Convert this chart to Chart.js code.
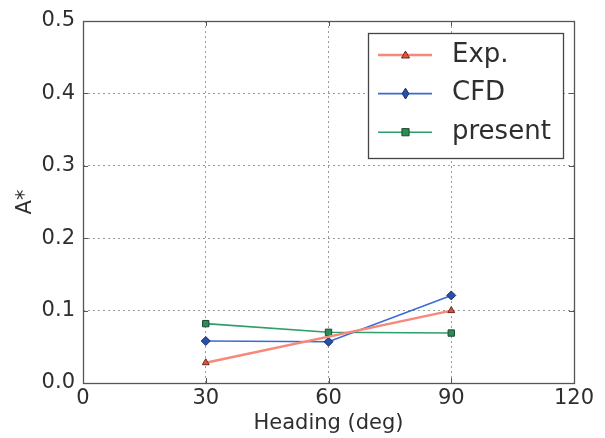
<!DOCTYPE html>
<html><head><meta charset="utf-8">
<script src="https://cdn.jsdelivr.net/npm/chart.js@4"></script>
<style>html,body{margin:0;padding:0;background:#fff}#wrap{width:605px;height:438px}</style>
</head><body><div id="wrap"><canvas id="c" width="605" height="438"></canvas></div>
<script>
const headings = [30, 60, 90];
const expValues = [0.028, null, 0.100];
const cfdValues = [0.058, 0.057, 0.121];
const presentValues = [0.082, 0.070, 0.069];
const xTicks = [0, 30, 60, 90, 120];
const yTicks = [0.0, 0.1, 0.2, 0.3, 0.4, 0.5];
const seriesNames = ['Exp.', 'CFD', 'present'];

const toPts = v => headings.map((h, i) => ({x: h, y: v[i]}));
const FONT = "'DejaVu Sans', sans-serif";
const TXT = '#2e2e2e';

function drawMarker(ctx, style, x, y, r) {
  if (style === 'triangle') {
    ctx.moveTo(x, y - r); ctx.lineTo(x + r, y + r * 0.75); ctx.lineTo(x - r, y + r * 0.75); ctx.closePath();
  } else if (style === 'rectRot') {
    ctx.moveTo(x, y - r * 1.2); ctx.lineTo(x + r * 0.75, y); ctx.lineTo(x, y + r * 1.2); ctx.lineTo(x - r * 0.75, y); ctx.closePath();
  } else {
    ctx.rect(x - r * 0.8, y - r * 0.8, r * 1.6, r * 1.6);
  }
}

const frame = {
  id: 'frame',
  afterDraw(chart) {
    const {ctx, chartArea: a, scales} = chart;
    ctx.save();
    ctx.strokeStyle = '#555';
    ctx.lineWidth = 1;
    ctx.beginPath();
    xTicks.forEach(t => {
      const x = Math.round(scales.x.getPixelForValue(t)) + 0.5;
      ctx.moveTo(x, a.bottom); ctx.lineTo(x, a.bottom - 5);
      ctx.moveTo(x, a.top); ctx.lineTo(x, a.top + 5);
    });
    yTicks.forEach(t => {
      const y = Math.round(scales.y.getPixelForValue(t)) + 0.5;
      ctx.moveTo(a.left, y); ctx.lineTo(a.left + 5, y);
      ctx.moveTo(a.right, y); ctx.lineTo(a.right - 5, y);
    });
    ctx.stroke();
    ctx.lineWidth = 1.3;
    ctx.strokeRect(Math.round(a.left)+0.5, Math.round(a.top)+0.5, Math.round(a.right-a.left), Math.round(a.bottom-a.top));
    // legend
    const bw = 195, bh = 125;
    const bx = Math.round(a.right) - 11 - bw, by = Math.round(a.top) + 12;
    ctx.fillStyle = '#fff';
    ctx.fillRect(bx, by, bw, bh);
    ctx.strokeStyle = '#444';
    ctx.lineWidth = 1.3;
    ctx.strokeRect(bx + 0.5, by + 0.5, bw, bh);
    chart.data.datasets.forEach((ds, i) => {
      const y = by + 22 + i * 38.6;
      ctx.strokeStyle = ds.borderColor;
      ctx.lineWidth = ds.borderWidth;
      ctx.beginPath(); ctx.moveTo(bx + 10, y); ctx.lineTo(bx + 64, y); ctx.stroke();
      ctx.fillStyle = ds.pointBackgroundColor;
      ctx.strokeStyle = ds.pointBorderColor;
      ctx.lineWidth = 1;
      ctx.beginPath();
      drawMarker(ctx, ds.pointStyle, bx + 37.5, y, ds.pointRadius);
      ctx.fill(); ctx.stroke();
      ctx.fillStyle = TXT;
      ctx.font = "26px " + FONT;
      ctx.textBaseline = 'middle';
      ctx.textAlign = 'left';
      ctx.fillText(ds.label, bx + 84, y);
    });
    ctx.restore();
  }
};

new Chart(document.getElementById('c'), {
  type: 'line',
  data: {
    datasets: [
      {label: seriesNames[0], data: toPts(expValues), borderColor: '#f7897a', borderWidth: 2.5,
       pointStyle: 'triangle', pointRadius: 4, pointBackgroundColor: '#d9553f', pointBorderColor: '#6b2a20', pointBorderWidth: 1, spanGaps: true},
      {label: seriesNames[1], data: toPts(cfdValues), borderColor: '#3a6cd0', borderWidth: 1.6,
       pointStyle: 'rectRot', pointRadius: 4.5, pointBackgroundColor: '#2a4fa8', pointBorderColor: '#1a2f66', pointBorderWidth: 1},
      {label: seriesNames[2], data: toPts(presentValues), borderColor: '#2e9e6a', borderWidth: 1.6,
       pointStyle: 'rect', pointRadius: 4.5, pointBackgroundColor: '#2e8b57', pointBorderColor: '#1b4a2e', pointBorderWidth: 1}
    ]
  },
  options: {
    responsive: false, animation: false,
    layout: {padding: {top: 21, right: 31, left: 0, bottom: 0}},
    plugins: {legend: {display: false}, tooltip: {enabled: false}},
    elements: {line: {tension: 0}},
    scales: {
      x: {
        type: 'linear', min: 0, max: 120,
        afterBuildTicks: s => { s.ticks = xTicks.map(v => ({value: v})); },
        afterFit: s => { s.height = 55; },
        grid: {color: '#9a9a9a', drawTicks: false, lineWidth: 1},
        border: {display: false, dash: [2, 3]},
        ticks: {color: TXT, font: {family: FONT, size: 21}, padding: 3, maxRotation: 0},
        title: {display: true, text: 'Heading (deg)', color: TXT, font: {family: FONT, size: 21}, padding: {top: 0, bottom: 2}}
      },
      y: {
        min: 0, max: 0.5,
        afterBuildTicks: s => { s.ticks = yTicks.map(v => ({value: v})); },
        afterFit: s => { s.width = 83; },
        grid: {color: '#9a9a9a', drawTicks: false, lineWidth: 1},
        border: {display: false, dash: [2, 3]},
        ticks: {color: TXT, font: {family: FONT, size: 21}, padding: 8, callback: v => v.toFixed(1)},
        title: {display: true, text: 'A*', color: TXT, font: {family: FONT, size: 21}, padding: {top: 13, bottom: 0}}
      }
    }
  },
  plugins: [frame]
});
</script></body></html>
